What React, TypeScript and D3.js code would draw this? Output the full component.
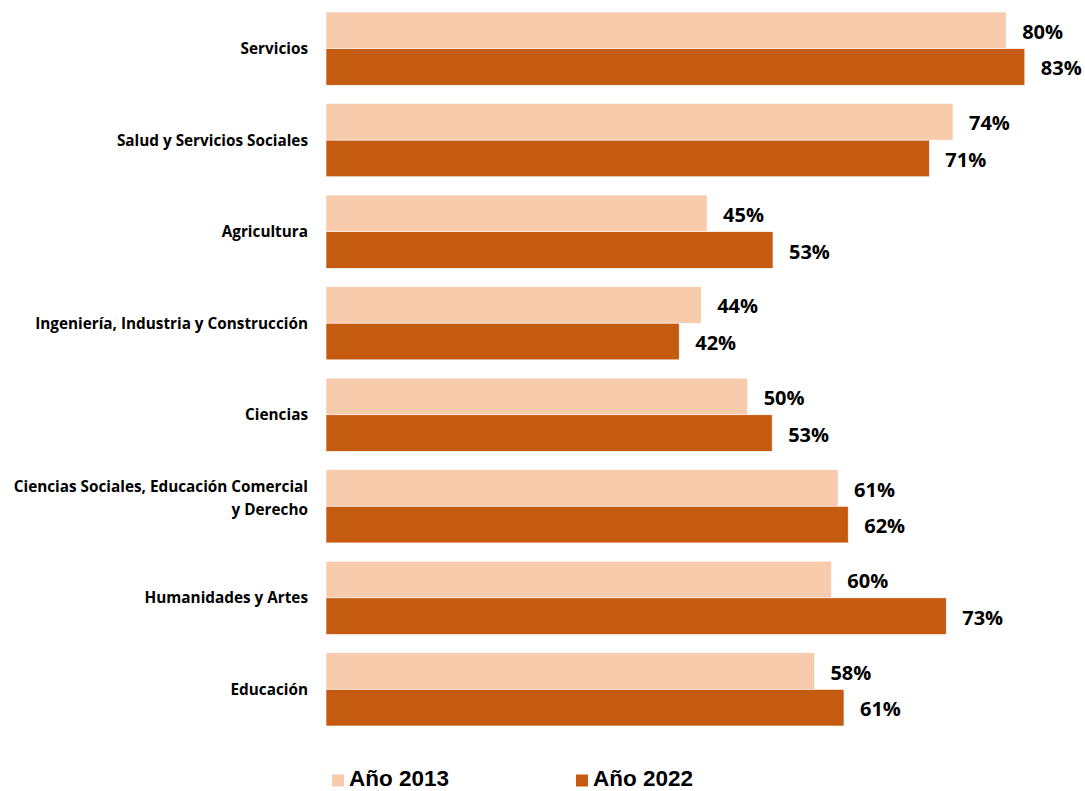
import React from "react";
import * as d3 from "d3";

const categories: string[][] = [
  ["Servicios"],
  ["Salud y Servicios Sociales"],
  ["Agricultura"],
  ["Ingeniería, Industria y Construcción"],
  ["Ciencias"],
  ["Ciencias Sociales, Educación Comercial", "y Derecho"],
  ["Humanidades y Artes"],
  ["Educación"],
];
const series2013: number[] = [80.49, 74.2, 45.1, 44.4, 49.9, 60.6, 59.8, 57.8];
const series2022: number[] = [82.7, 71.4, 52.9, 41.8, 52.8, 61.8, 73.4, 61.3];
const seriesNames: string[] = ["Año 2013", "Año 2022"];

const COLORS = ["#F8CBAD", "#C55A11"];
const W = 1085;
const H = 791;

export default function App() {
  const x = d3.scaleLinear().domain([0, 100]).range([326, 326 + 845]);
  const y = d3
    .scaleBand<number>()
    .domain(d3.range(categories.length))
    .range([12, 726])
    .paddingInner(0.2)
    .paddingOuter(0);
  const inner = d3
    .scaleBand<number>()
    .domain([0, 1])
    .range([0, y.bandwidth()])
    .padding(0);
  const seriesData = [series2013, series2022];
  const catFont = "'Open Sans', sans-serif";

  return (
    <svg
      width={W}
      height={H}
      style={{ position: "absolute", left: 0, top: 0, background: "#fff" }}
    >
      {categories.map((lines, i) => {
        const cy = (y(i) as number) + y.bandwidth() / 2;
        return (
          <g key={"c" + i}>
            {lines.map((ln, j) => {
              const base =
                lines.length === 1 ? cy + 5.5 : cy - 14 + j * 23;
              return (
                <text
                  key={j}
                  x={308}
                  y={base}
                  textAnchor="end"
                  fontFamily={catFont}
                  fontWeight={700}
                  fontSize={15.3}
                  fill="#000"
                >
                  {ln}
                </text>
              );
            })}
            {seriesData.map((s, k) => {
              const by = (y(i) as number) + (inner(k) as number);
              const bh = inner.bandwidth();
              return (
                <g key={k}>
                  <rect
                    x={x(0)}
                    y={by}
                    width={x(s[i]) - x(0)}
                    height={bh}
                    fill={COLORS[k]}
                    stroke="#fff"
                    strokeWidth={0.6}
                  />
                  <text
                    x={x(s[i]) + 16}
                    y={by + bh / 2 + 8.5}
                    fontFamily={catFont}
                    fontWeight={700}
                    fontSize={20}
                    fill="#000"
                  >
                    {Math.round(s[i]) + "%"}
                  </text>
                </g>
              );
            })}
          </g>
        );
      })}
      {seriesNames.map((n, k) => {
        const lx = [332, 576][k];
        return (
          <g key={"l" + k}>
            <rect x={lx} y={774.5} width={12} height={12} fill={COLORS[k]} />
            <text
              x={lx + 17}
              y={786}
              fontFamily="'Liberation Sans', Arial, sans-serif"
              fontWeight={700}
              fontSize={22.5}
              fill="#000"
            >
              {n}
            </text>
          </g>
        );
      })}
    </svg>
  );
}
